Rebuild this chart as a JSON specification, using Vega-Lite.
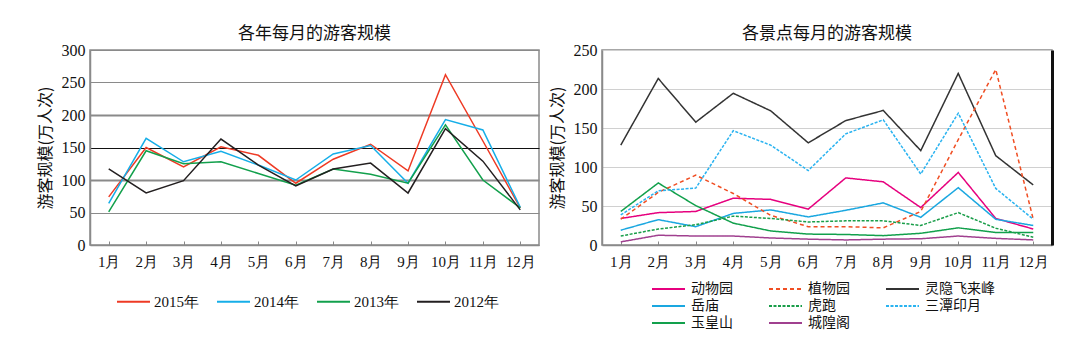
{
  "$schema": "https://vega.github.io/schema/vega-lite/v6.json",
  "padding": {"top": 24, "left": 36, "right": 5, "bottom": 5},
  "spacing": 8,
  "config": {
    "view": {"stroke": "#8a8a8a", "strokeWidth": 1.5},
    "font": "Liberation Serif",
    "title": {"font": "Noto Sans CJK SC", "fontSize": 17, "fontWeight": "normal", "color": "#111", "offset": -1},
    "axis": {"labelFont": "Liberation Serif", "labelColor": "#111", "titleFont": "Noto Sans CJK SC", "titleFontWeight": "normal", "titleColor": "#111", "titleFontSize": 16, "domainColor": "#8a8a8a", "domainWidth": 1.5},
    "axisX": {"labelAngle": 0, "labelFontSize": 15, "tickColor": "#888", "tickSize": -4, "labelPadding": 13, "grid": false},
    "axisY": {"labelFontSize": 16, "ticks": false, "labelPadding": 5, "titlePadding": 8}
  },
  "resolve": {"scale": {"color": "independent", "strokeDash": "independent"}, "legend": {"color": "independent", "strokeDash": "independent"}},
  "datasets": {
    "years": [
      {"year": "2015年", "m": "1月", "v": 74}, {"year": "2015年", "m": "2月", "v": 150}, {"year": "2015年", "m": "3月", "v": 120}, {"year": "2015年", "m": "4月", "v": 151}, {"year": "2015年", "m": "5月", "v": 138}, {"year": "2015年", "m": "6月", "v": 95}, {"year": "2015年", "m": "7月", "v": 132}, {"year": "2015年", "m": "8月", "v": 155}, {"year": "2015年", "m": "9月", "v": 114}, {"year": "2015年", "m": "10月", "v": 262}, {"year": "2015年", "m": "11月", "v": 160}, {"year": "2015年", "m": "12月", "v": 57},
      {"year": "2014年", "m": "1月", "v": 64}, {"year": "2014年", "m": "2月", "v": 164}, {"year": "2014年", "m": "3月", "v": 128}, {"year": "2014年", "m": "4月", "v": 144}, {"year": "2014年", "m": "5月", "v": 123}, {"year": "2014年", "m": "6月", "v": 100}, {"year": "2014年", "m": "7月", "v": 140}, {"year": "2014年", "m": "8月", "v": 153}, {"year": "2014年", "m": "9月", "v": 95}, {"year": "2014年", "m": "10月", "v": 193}, {"year": "2014年", "m": "11月", "v": 177}, {"year": "2014年", "m": "12月", "v": 58},
      {"year": "2013年", "m": "1月", "v": 51}, {"year": "2013年", "m": "2月", "v": 145}, {"year": "2013年", "m": "3月", "v": 125}, {"year": "2013年", "m": "4月", "v": 128}, {"year": "2013年", "m": "5月", "v": 110}, {"year": "2013年", "m": "6月", "v": 92}, {"year": "2013年", "m": "7月", "v": 117}, {"year": "2013年", "m": "8月", "v": 109}, {"year": "2013年", "m": "9月", "v": 95}, {"year": "2013年", "m": "10月", "v": 185}, {"year": "2013年", "m": "11月", "v": 100}, {"year": "2013年", "m": "12月", "v": 57},
      {"year": "2012年", "m": "1月", "v": 117}, {"year": "2012年", "m": "2月", "v": 80}, {"year": "2012年", "m": "3月", "v": 99}, {"year": "2012年", "m": "4月", "v": 163}, {"year": "2012年", "m": "5月", "v": 123}, {"year": "2012年", "m": "6月", "v": 91}, {"year": "2012年", "m": "7月", "v": 117}, {"year": "2012年", "m": "8月", "v": 126}, {"year": "2012年", "m": "9月", "v": 80}, {"year": "2012年", "m": "10月", "v": 179}, {"year": "2012年", "m": "11月", "v": 129}, {"year": "2012年", "m": "12月", "v": 54}
    ],
    "spots": [
      {"spot": "动物园", "m": "1月", "v": 34}, {"spot": "动物园", "m": "2月", "v": 41.5}, {"spot": "动物园", "m": "3月", "v": 43}, {"spot": "动物园", "m": "4月", "v": 60}, {"spot": "动物园", "m": "5月", "v": 58.5}, {"spot": "动物园", "m": "6月", "v": 46}, {"spot": "动物园", "m": "7月", "v": 86}, {"spot": "动物园", "m": "8月", "v": 81}, {"spot": "动物园", "m": "9月", "v": 48}, {"spot": "动物园", "m": "10月", "v": 93}, {"spot": "动物园", "m": "11月", "v": 34}, {"spot": "动物园", "m": "12月", "v": 20.5},
      {"spot": "植物园", "m": "1月", "v": 33}, {"spot": "植物园", "m": "2月", "v": 67.5}, {"spot": "植物园", "m": "3月", "v": 89.5}, {"spot": "植物园", "m": "4月", "v": 66}, {"spot": "植物园", "m": "5月", "v": 38}, {"spot": "植物园", "m": "6月", "v": 23.5}, {"spot": "植物园", "m": "7月", "v": 23.5}, {"spot": "植物园", "m": "8月", "v": 22}, {"spot": "植物园", "m": "9月", "v": 43}, {"spot": "植物园", "m": "10月", "v": 135}, {"spot": "植物园", "m": "11月", "v": 225}, {"spot": "植物园", "m": "12月", "v": 33},
      {"spot": "灵隐飞来峰", "m": "1月", "v": 128}, {"spot": "灵隐飞来峰", "m": "2月", "v": 213.5}, {"spot": "灵隐飞来峰", "m": "3月", "v": 157.5}, {"spot": "灵隐飞来峰", "m": "4月", "v": 194.5}, {"spot": "灵隐飞来峰", "m": "5月", "v": 172}, {"spot": "灵隐飞来峰", "m": "6月", "v": 131}, {"spot": "灵隐飞来峰", "m": "7月", "v": 159.5}, {"spot": "灵隐飞来峰", "m": "8月", "v": 172.5}, {"spot": "灵隐飞来峰", "m": "9月", "v": 121}, {"spot": "灵隐飞来峰", "m": "10月", "v": 220}, {"spot": "灵隐飞来峰", "m": "11月", "v": 114.5}, {"spot": "灵隐飞来峰", "m": "12月", "v": 77},
      {"spot": "岳庙", "m": "1月", "v": 19}, {"spot": "岳庙", "m": "2月", "v": 32.5}, {"spot": "岳庙", "m": "3月", "v": 23.5}, {"spot": "岳庙", "m": "4月", "v": 40.5}, {"spot": "岳庙", "m": "5月", "v": 45}, {"spot": "岳庙", "m": "6月", "v": 36}, {"spot": "岳庙", "m": "7月", "v": 44.5}, {"spot": "岳庙", "m": "8月", "v": 54}, {"spot": "岳庙", "m": "9月", "v": 35.5}, {"spot": "岳庙", "m": "10月", "v": 73.5}, {"spot": "岳庙", "m": "11月", "v": 33}, {"spot": "岳庙", "m": "12月", "v": 25},
      {"spot": "虎跑", "m": "1月", "v": 11.5}, {"spot": "虎跑", "m": "2月", "v": 20.5}, {"spot": "虎跑", "m": "3月", "v": 26}, {"spot": "虎跑", "m": "4月", "v": 37}, {"spot": "虎跑", "m": "5月", "v": 34}, {"spot": "虎跑", "m": "6月", "v": 29.5}, {"spot": "虎跑", "m": "7月", "v": 31}, {"spot": "虎跑", "m": "8月", "v": 31}, {"spot": "虎跑", "m": "9月", "v": 25}, {"spot": "虎跑", "m": "10月", "v": 41.5}, {"spot": "虎跑", "m": "11月", "v": 21.5}, {"spot": "虎跑", "m": "12月", "v": 10},
      {"spot": "三潭印月", "m": "1月", "v": 38.5}, {"spot": "三潭印月", "m": "2月", "v": 69.5}, {"spot": "三潭印月", "m": "3月", "v": 73}, {"spot": "三潭印月", "m": "4月", "v": 146.5}, {"spot": "三潭印月", "m": "5月", "v": 128}, {"spot": "三潭印月", "m": "6月", "v": 95.5}, {"spot": "三潭印月", "m": "7月", "v": 142.5}, {"spot": "三潭印月", "m": "8月", "v": 160.5}, {"spot": "三潭印月", "m": "9月", "v": 91}, {"spot": "三潭印月", "m": "10月", "v": 169}, {"spot": "三潭印月", "m": "11月", "v": 72.5}, {"spot": "三潭印月", "m": "12月", "v": 33},
      {"spot": "玉皇山", "m": "1月", "v": 43}, {"spot": "玉皇山", "m": "2月", "v": 79.5}, {"spot": "玉皇山", "m": "3月", "v": 50.5}, {"spot": "玉皇山", "m": "4月", "v": 28}, {"spot": "玉皇山", "m": "5月", "v": 18}, {"spot": "玉皇山", "m": "6月", "v": 14}, {"spot": "玉皇山", "m": "7月", "v": 13.5}, {"spot": "玉皇山", "m": "8月", "v": 12}, {"spot": "玉皇山", "m": "9月", "v": 15}, {"spot": "玉皇山", "m": "10月", "v": 22}, {"spot": "玉皇山", "m": "11月", "v": 16}, {"spot": "玉皇山", "m": "12月", "v": 16},
      {"spot": "城隍阁", "m": "1月", "v": 4}, {"spot": "城隍阁", "m": "2月", "v": 12.5}, {"spot": "城隍阁", "m": "3月", "v": 11.5}, {"spot": "城隍阁", "m": "4月", "v": 11.5}, {"spot": "城隍阁", "m": "5月", "v": 9}, {"spot": "城隍阁", "m": "6月", "v": 7.5}, {"spot": "城隍阁", "m": "7月", "v": 6.5}, {"spot": "城隍阁", "m": "8月", "v": 7.5}, {"spot": "城隍阁", "m": "9月", "v": 8}, {"spot": "城隍阁", "m": "10月", "v": 11.5}, {"spot": "城隍阁", "m": "11月", "v": 8.5}, {"spot": "城隍阁", "m": "12月", "v": 6.5}
    ]
  },
  "hconcat": [
    {
      "width": 449,
      "height": 195,
      "title": "各年每月的游客规模",
      "data": {"name": "years"},
      "mark": {"type": "line", "strokeWidth": 1.5},
      "encoding": {
        "x": {"field": "m", "type": "ordinal", "sort": ["1月","2月","3月","4月","5月","6月","7月","8月","9月","10月","11月","12月"], "scale": {"type": "point", "padding": 0.5}, "axis": {"title": null}},
        "y": {"field": "v", "type": "quantitative", "scale": {"domain": [0, 300], "nice": false}, "axis": {"title": "游客规模(万人次)", "values": [0, 50, 100, 150, 200, 250, 300], "gridColor": {"condition": {"test": "datum.value === 150", "value": "#111111"}, "value": "#8a8a8a"}, "gridWidth": {"condition": {"test": "datum.value === 100 || datum.value === 200", "value": 2}, "value": 1.2}}},
        "color": {"field": "year", "type": "nominal", "scale": {"domain": ["2015年", "2014年", "2013年", "2012年"], "range": ["#ee3a24", "#16aee8", "#12a04c", "#231f20"]}, "legend": {"orient": "none", "legendX": 26, "legendY": 234, "direction": "horizontal", "title": null, "symbolType": "stroke", "symbolSize": 1089, "symbolStrokeWidth": 2, "labelFontSize": 15, "labelFont": "Liberation Serif", "labelColor": "#111", "columnPadding": 14, "labelOffset": 3}}
      }
    },
    {
      "width": 450,
      "height": 195,
      "title": "各景点每月的游客规模",
      "data": {"name": "spots"},
      "encoding": {
        "x": {"field": "m", "type": "ordinal", "sort": ["1月","2月","3月","4月","5月","6月","7月","8月","9月","10月","11月","12月"], "scale": {"type": "point", "padding": 0.5}, "axis": {"title": null}},
        "color": {"field": "spot", "type": "nominal", "scale": {"domain": ["动物园", "岳庙", "玉皇山", "植物园", "虎跑", "城隍阁", "灵隐飞来峰", "三潭印月"], "range": ["#e6007e", "#1aa7e0", "#12a04c", "#f04e23", "#1a9e4a", "#a0408f", "#333333", "#2ab3f0"]}, "legend": {"orient": "none", "legendX": 49, "legendY": 231, "columns": 3, "direction": "vertical", "title": null, "symbolType": "stroke", "symbolSize": 1089, "symbolStrokeWidth": 2, "labelFontSize": 14, "labelFont": "Noto Sans CJK SC", "labelColor": "#111", "columnPadding": 35, "rowPadding": 1, "clipHeight": 16, "labelOffset": 5}},
        "strokeDash": {"field": "spot", "type": "nominal", "scale": {"domain": ["动物园", "岳庙", "玉皇山", "植物园", "虎跑", "城隍阁", "灵隐飞来峰", "三潭印月"], "range": [[1, 0], [1, 0], [1, 0], [4, 3], [3, 1.5], [1, 0], [1, 0], [3, 1.5]]}}
      },
      "layer": [
        {
          "transform": [{"filter": "indexof(['植物园','虎跑','三潭印月'], datum.spot) < 0"}],
          "mark": {"type": "line", "strokeWidth": 1.5},
          "encoding": {
            "y": {"field": "v", "type": "quantitative", "scale": {"domain": [0, 250], "nice": false}, "axis": {"title": "游客规模(万人次)", "values": [0, 50, 100, 150, 200, 250], "gridColor": "#d0d0d0", "gridWidth": 1}}
          }
        },
        {
          "transform": [{"filter": "indexof(['植物园','虎跑','三潭印月'], datum.spot) >= 0"}],
          "mark": {"type": "line", "strokeWidth": 1.5},
          "encoding": {
            "y": {"field": "v", "type": "quantitative", "scale": {"domain": [0, 250], "nice": false}, "axis": {"orient": "right", "title": null, "labels": false, "ticks": false, "grid": false, "domainColor": "#111111", "domainWidth": 3}}
          }
        }
      ],
      "resolve": {"axis": {"y": "independent"}}
    }
  ]
}
